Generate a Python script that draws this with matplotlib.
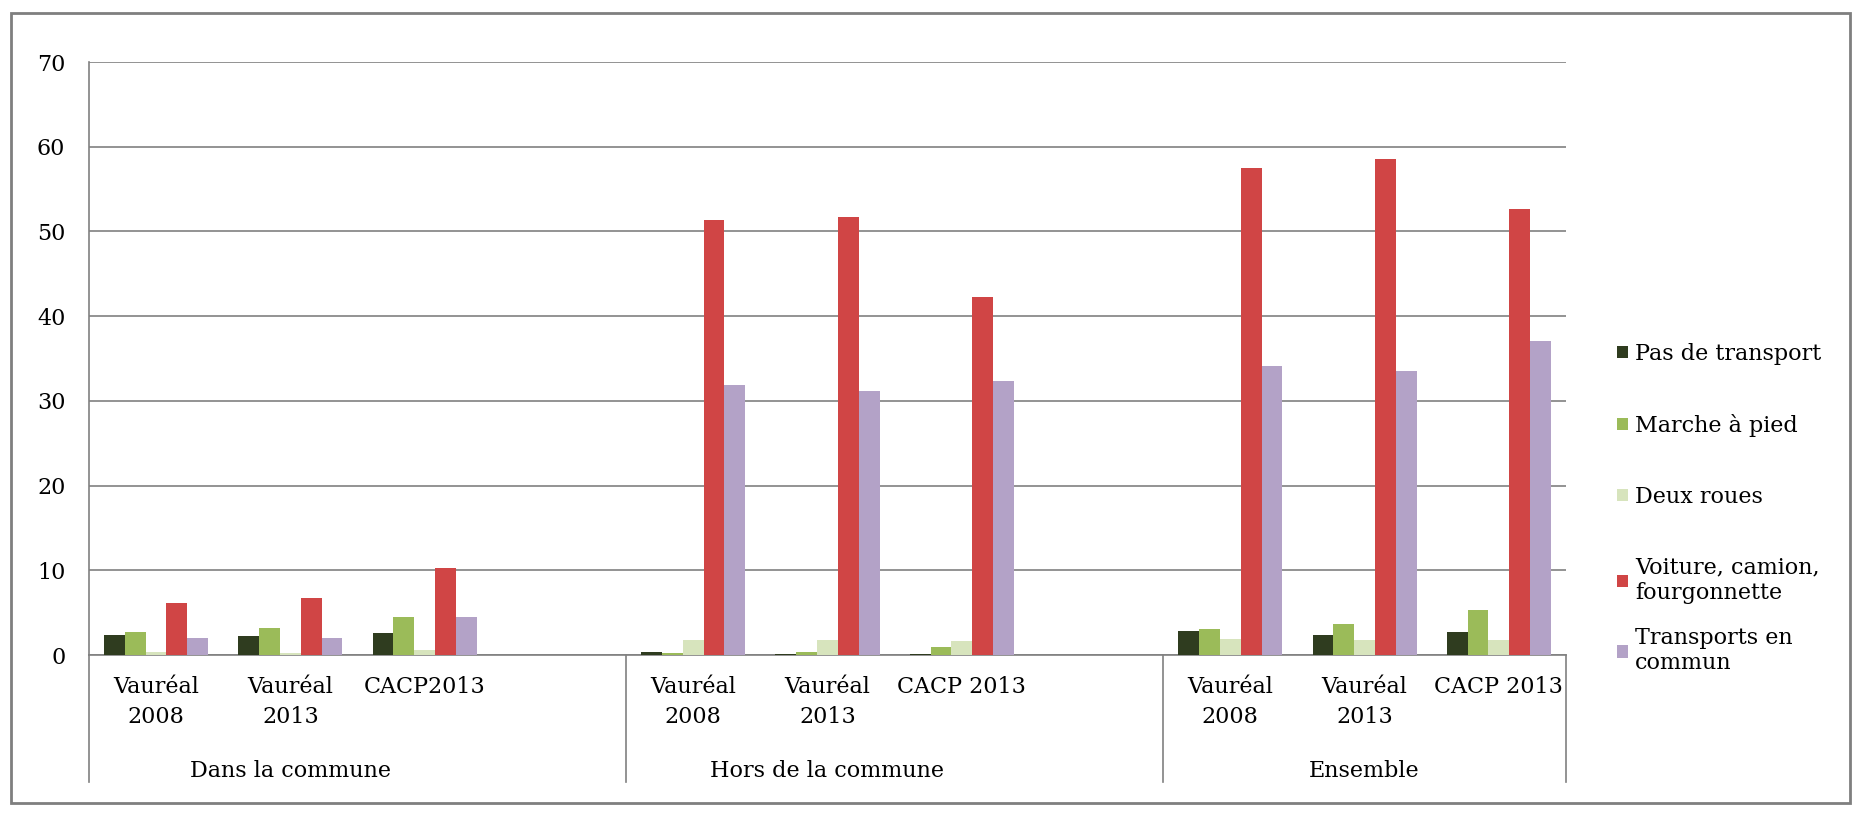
import matplotlib.pyplot as plt
import matplotlib.transforms as mtransforms
from matplotlib.patches import Rectangle

# Modes de transport (%), par groupe et par territoire
groups = ["Dans la commune", "Hors de la commune", "Ensemble"]
places = [["Vauréal\n2008", "Vauréal\n2013", "CACP2013"],
          ["Vauréal\n2008", "Vauréal\n2013", "CACP 2013"],
          ["Vauréal\n2008", "Vauréal\n2013", "CACP 2013"]]

series = ["Pas de transport", "Marche à pied", "Deux roues",
          "Voiture, camion,\nfourgonnette", "Transports en\ncommun"]

pas_transport = [2.4, 2.2, 2.6, 0.3, 0.15, 0.15, 2.8, 2.4, 2.7]
marche = [2.7, 3.2, 4.5, 0.2, 0.3, 0.9, 3.1, 3.7, 5.3]
deux_roues = [0.4, 0.2, 0.6, 1.8, 1.75, 1.6, 1.9, 1.8, 1.8]
voiture = [6.2, 6.75, 10.3, 51.3, 51.7, 42.3, 57.5, 58.5, 52.6]
transports = [2.0, 2.0, 4.5, 31.9, 31.2, 32.4, 34.1, 33.5, 37.1]

colors = ["#2f3c1f", "#9bbb59", "#d7e4bd", "#d04545", "#b3a2c7"]

plt.rcParams['font.family'] = ['DejaVu Serif']
fs = 16

fig = plt.figure(figsize=(18.57, 8.13), dpi=100)
ax = fig.add_axes([0.0479, 0.1943, 0.7954, 0.7294])

# positions: 3 slots per group, one empty slot between groups
xpos = [g * 4 + i for g in range(3) for i in range(3)]
width = 0.155
handles = []
for k, (vals, name, c) in enumerate(zip(
        [pas_transport, marche, deux_roues, voiture, transports], series, colors)):
    b = ax.bar([x + (k - 2) * width for x in xpos], vals, width=width,
               color=c, label=name, zorder=3)
    handles.append(b)

ax.set_xlim(-0.5, 10.5)
ax.set_ylim(0, 70)
ax.set_yticks(range(0, 71, 10))
ax.grid(axis='y', color='#808080', linewidth=1.2, zorder=0)
ax.tick_params(axis='y', length=0, pad=17, labelsize=fs)

ax.set_xticks(xpos)
ax.set_xticklabels([p for row in places for p in row], fontsize=fs, linespacing=1.5)
ax.tick_params(axis='x', length=0, pad=15)

for s in ['top', 'right']:
    ax.spines[s].set_visible(False)
ax.spines['left'].set_color('#808080')
ax.spines['bottom'].set_color('#808080')
ax.spines['left'].set_linewidth(1.2)
ax.spines['bottom'].set_linewidth(1.2)

# group separators and group labels below the axis
trans = mtransforms.blended_transform_factory(ax.transData, ax.transAxes)
for x in [-0.5, 3.5, 7.5, 10.5]:
    ax.plot([x, x], [0, -0.214], transform=trans, color='#808080',
            linewidth=1.2, clip_on=False)
centers = [1, 5, 9]
for cx, g in zip(centers, groups):
    ax.text(cx, -0.195, g, transform=trans, ha='center', va='center', fontsize=fs)

# legend in two blocks so the last entry sits closer to the two-line one
leg_kw = dict(bbox_transform=fig.transFigure, frameon=False, fontsize=fs,
              handlelength=0.5, handleheight=0.5, handletextpad=0.3,
              labelspacing=2.2, borderpad=0, borderaxespad=0, loc='upper left')
leg1 = ax.legend(handles[:4], series[:4],
                 bbox_to_anchor=(1617 / 1857, 1 - 343 / 813), **leg_kw)
ax.add_artist(leg1)
ax.legend(handles[4:], series[4:],
          bbox_to_anchor=(1617 / 1857, 1 - 627 / 813), **leg_kw)

# outer frame
fig.patches.append(Rectangle((11 / 1857, 1 - 803 / 813), 1839 / 1857, 790 / 813,
                             transform=fig.transFigure, fill=False,
                             edgecolor='#7f7f7f', linewidth=2))

fig.savefig('out.png', dpi=100)
